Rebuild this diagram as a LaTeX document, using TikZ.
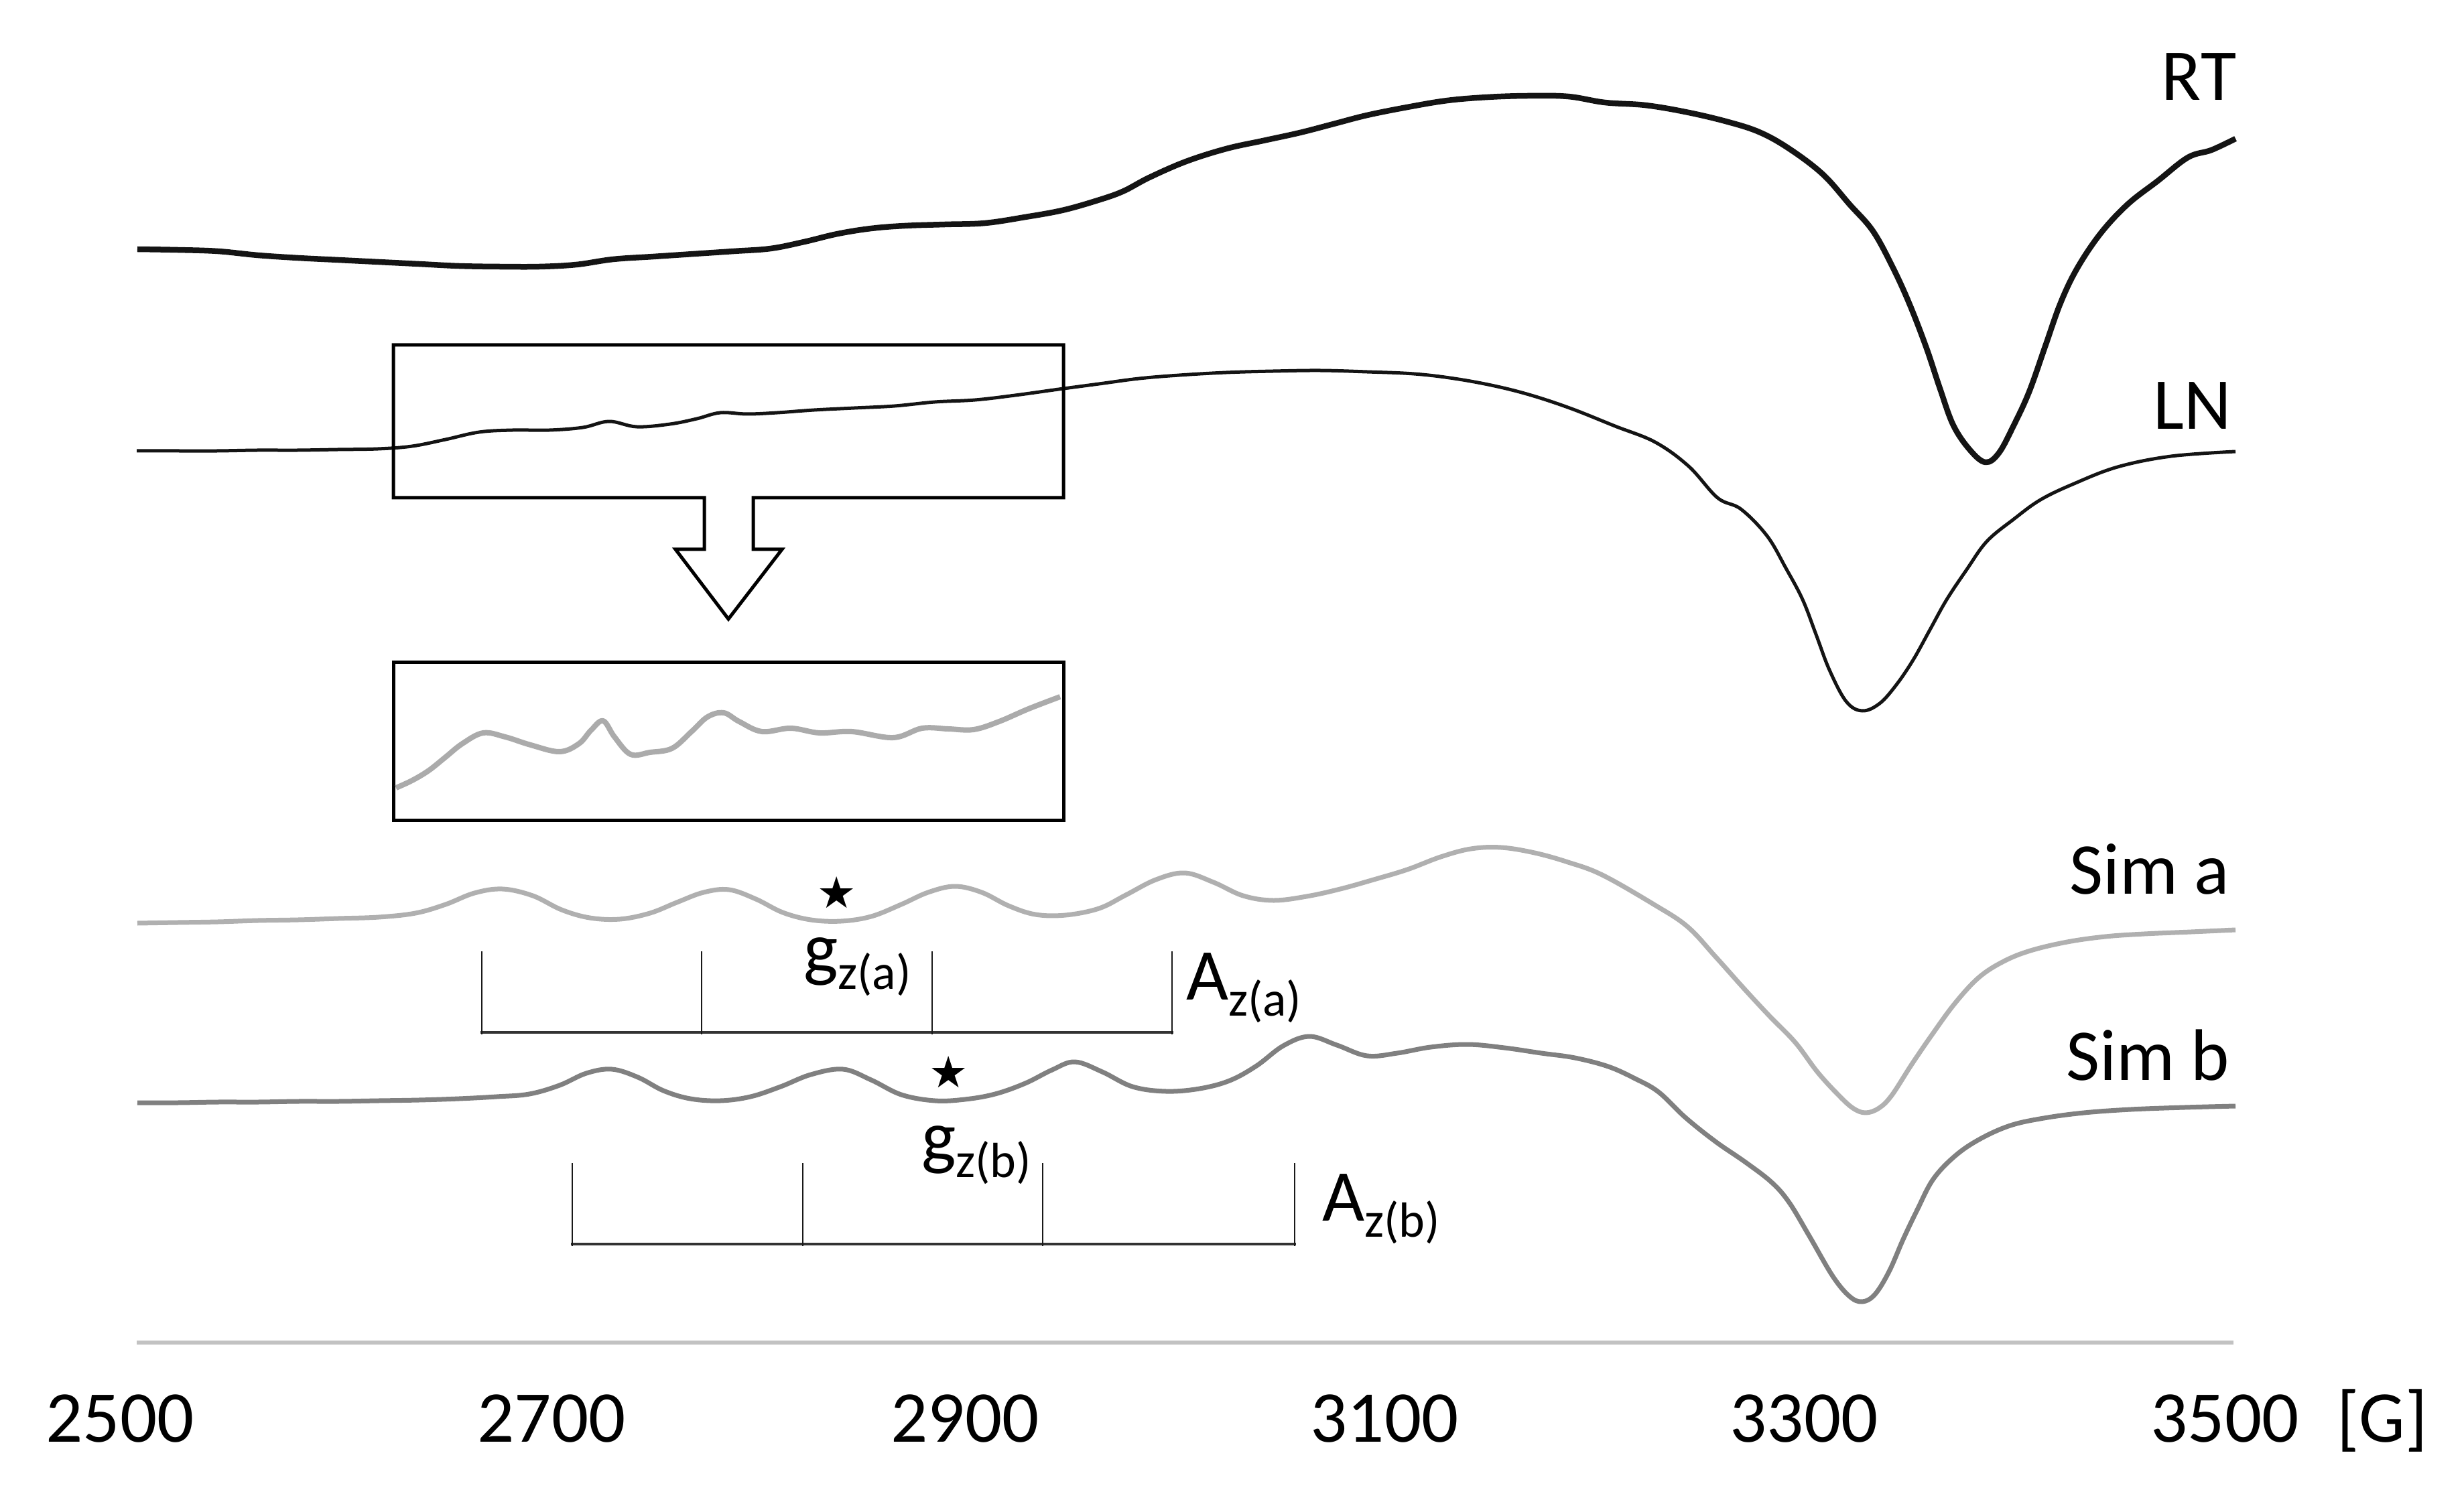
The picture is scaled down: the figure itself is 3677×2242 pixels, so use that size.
\documentclass[tikz,border=0pt]{standalone}
\usepackage{fontspec}
\setmainfont{Carlito}
\newfontfamily\starfont{DejaVu Sans}
\newcommand{\bigfont}{\fontsize{62}{72}\selectfont}
\newcommand{\subfont}{\fontsize{42}{48}\selectfont}
\newcommand{\lowsub}[1]{\raisebox{-0.48cm}{\subfont #1}}
\tikzset{
  curve/.style={line join=round,smooth,tension=0.6},
  rtline/.style={curve,draw=black!92,line width=1.7mm},
  lnline/.style={curve,draw=black!92,line width=1.0mm},
  lightline/.style={curve,draw=black!31,line width=1.4mm},
  darkline/.style={curve,draw=black!50,line width=1.4mm},
  insetline/.style={curve,draw=black!33,line width=1.6mm},
  boxline/.style={draw=black,line width=1.0mm,line join=miter},
  tickline/.style={draw=black!90,line width=0.55mm},
  barline/.style={draw=black!80,line width=0.8mm},
  axisline/.style={draw=black!24,line width=1.2mm},
  label/.style={inner sep=0pt,outer sep=0pt,text=black,font=\bigfont},
  starmark/.style={inner sep=0pt,outer sep=0pt,text=black,font=\starfont\fontsize{37}{40}\selectfont}
}
\begin{document}
\begin{tikzpicture}[x=0.2mm,y=-0.2mm]
\useasboundingbox[fill=white] (0,0) rectangle (3677,2242);
% RT
\draw[rtline] plot coordinates {(205,372)(265,373)(325,375)(385,381)(445,385)(505,388)(565,391)(625,394)(685,397)(745,398)(805,398)(860,395)(915,387)(975,383)(1035,379)(1095,375)(1150,371)(1200,361)(1250,349)(1300,341)(1350,337)(1410,335)(1470,333)(1530,324)(1585,314)(1635,300)(1675,286)(1715,265)(1770,241)(1830,222)(1885,210)(1940,198)(1990,185)(2040,172)(2100,160)(2160,150)(2220,145)(2280,143)(2340,144)(2395,153)(2455,157)(2515,167)(2575,181)(2625,197)(2670,222)(2720,260)(2760,305)(2795,345)(2825,400)(2850,455)(2875,520)(2895,580)(2915,635)(2940,672)(2963,690)(2983,676)(3005,635)(3028,585)(3052,517)(3075,452)(3100,400)(3135,348)(3175,305)(3220,270)(3265,235)(3300,224)(3336,207)};
% LN
\draw[lnline] plot coordinates {(204,673)(264,673)(324,673)(384,672)(444,672)(504,671)(564,670)(615,666)(665,656)(715,645)(765,642)(820,642)(870,638)(909,629)(950,637)(1000,633)(1040,625)(1075,616)(1115,618)(1160,616)(1215,612)(1275,609)(1335,606)(1395,600)(1455,597)(1515,590)(1580,581)(1640,573)(1700,565)(1760,560)(1830,556)(1900,554)(1970,553)(2040,555)(2110,558)(2170,565)(2230,576)(2285,590)(2345,610)(2410,636)(2470,660)(2520,696)(2563,743)(2598,760)(2637,800)(2665,848)(2690,895)(2710,947)(2730,1000)(2755,1047)(2779,1061)(2805,1050)(2830,1022)(2855,985)(2880,940)(2905,895)(2935,850)(2965,808)(3005,775)(3045,746)(3095,722)(3160,697)(3240,681)(3336,674)};
% zoom frames and arrow
\draw[boxline] (587,515) -- (1587,515) -- (1587,743) -- (1124,743) -- (1124,820) -- (1167,820) -- (1087,924) -- (1008,820) -- (1051,820) -- (1051,743) -- (587,743) -- cycle;
\draw[boxline] (587,988) rectangle (1587,1224);
\draw[insetline] plot coordinates {(591,1176)(615,1165)(640,1150)(665,1130)(690,1110)(721,1094)(754,1100)(792,1112)(835,1122)(864,1110)(882,1090)(900,1076)(917,1100)(941,1126)(970,1123)(1003,1117)(1032,1092)(1056,1070)(1080,1064)(1103,1077)(1137,1092)(1180,1087)(1223,1094)(1271,1092)(1333,1101)(1376,1087)(1415,1088)(1453,1089)(1491,1077)(1535,1058)(1582,1040)};
% Sim a
\draw[lightline] plot coordinates {(205,1378)(265,1377)(325,1376)(385,1374)(445,1373)(505,1371)(565,1369)(620,1363)(665,1350)(708,1333)(750,1327)(795,1337)(838,1358)(880,1370)(925,1372)(970,1363)(1010,1347)(1050,1332)(1088,1328)(1128,1342)(1168,1362)(1210,1373)(1255,1375)(1300,1368)(1345,1350)(1385,1332)(1425,1323)(1465,1332)(1505,1352)(1545,1365)(1590,1366)(1640,1356)(1680,1336)(1725,1313)(1768,1303)(1811,1317)(1855,1337)(1900,1344)(1950,1338)(2000,1327)(2050,1313)(2100,1298)(2150,1279)(2195,1267)(2240,1265)(2290,1273)(2340,1287)(2391,1306)(2468,1350)(2518,1383)(2560,1428)(2602,1475)(2640,1516)(2679,1556)(2712,1600)(2742,1633)(2765,1654)(2784,1661)(2804,1654)(2823,1635)(2852,1590)(2882,1546)(2917,1498)(2953,1459)(2990,1435)(3030,1419)(3085,1406)(3142,1398)(3200,1394)(3270,1391)(3336,1388)};
% Sim b
\draw[darkline] plot coordinates {(205,1646)(265,1646)(325,1645)(385,1645)(445,1644)(505,1644)(565,1643)(625,1642)(685,1640)(741,1637)(790,1633)(835,1620)(875,1602)(913,1596)(952,1608)(990,1628)(1030,1640)(1075,1643)(1120,1637)(1165,1622)(1210,1604)(1258,1596)(1300,1612)(1345,1634)(1395,1643)(1440,1641)(1485,1633)(1530,1617)(1570,1597)(1604,1585)(1645,1600)(1690,1622)(1740,1629)(1790,1625)(1835,1613)(1875,1591)(1915,1561)(1954,1547)(1995,1560)(2040,1576)(2085,1572)(2135,1563)(2190,1559)(2245,1564)(2300,1572)(2350,1579)(2400,1592)(2440,1610)(2475,1630)(2515,1668)(2560,1704)(2605,1735)(2644,1765)(2670,1795)(2700,1845)(2735,1905)(2760,1935)(2779,1943)(2798,1932)(2819,1898)(2840,1850)(2861,1806)(2885,1760)(2918,1725)(2955,1700)(3000,1680)(3050,1669)(3110,1661)(3180,1656)(3260,1653)(3336,1651)};
% brackets
\draw[barline] (717,1541) -- (1751,1541);
\draw[tickline] (719,1420) -- (719,1544) (1047,1420) -- (1047,1544) (1391,1420) -- (1391,1544) (1749,1420) -- (1749,1544);
\draw[barline] (852,1857) -- (1934,1857);
\draw[tickline] (854,1736) -- (854,1860) (1198,1736) -- (1198,1860) (1556,1736) -- (1556,1860) (1932,1736) -- (1932,1860);
% axis
\draw[axisline] (204,2004) -- (3333,2004);
% series labels
\node[label,anchor=base east] (rt) at (3337,150) {RT};
\node[label,anchor=base east] (ln) at (3330,641) {LN};
\node[label,anchor=base east] (sima) at (3327,1334) {Sim a};
\node[label,anchor=base east] (simb) at (3327,1612) {Sim b};
% markers
\node[starmark] (stara) at (1249,1332) {★};
\node[starmark] (starb) at (1416,1600) {★};
\node[label,anchor=base west] (gza) at (1199,1452) {g\lowsub{z(a)}};
\node[label,anchor=base west] (gzb) at (1375,1733) {g\lowsub{z(b)}};
\node[label,anchor=base west] (aza) at (1770,1492) {A\lowsub{z(a)}};
\node[label,anchor=base west] (azb) at (1973,1822) {A\lowsub{z(b)}};
% axis labels
\node[label,anchor=base] (t1) at (179,2152) {2500};
\node[label,anchor=base] (t2) at (823,2152) {2700};
\node[label,anchor=base] (t3) at (1440,2152) {2900};
\node[label,anchor=base] (t4) at (2066,2152) {3100};
\node[label,anchor=base] (t5) at (2692,2152) {3300};
\node[label,anchor=base] (t6) at (3320,2152) {3500};
\node[label,anchor=base west] (unit) at (3487,2152) {[G]};
\end{tikzpicture}
\end{document}
